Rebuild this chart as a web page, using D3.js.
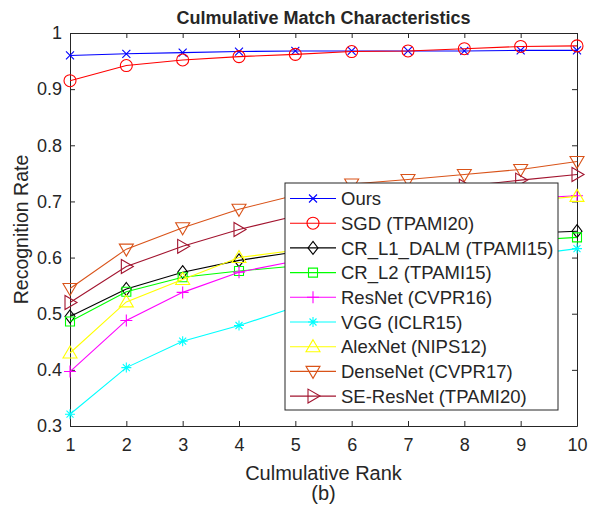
<!DOCTYPE html>
<html>
<head>
<meta charset="utf-8">
<script src="https://d3js.org/d3.v7.min.js"></script>
<style>
  body { margin: 0; background: #fff; }
  text { font-family: "Liberation Sans", Arial, sans-serif; fill: #262626; }
</style>
</head>
<body>
<div id="chart"></div>
<script>
    // ranks on the x axis
    var ranks = [1, 2, 3, 4, 5, 6, 7, 8, 9, 10];

    // one array per method (recognition rate per rank)
    var ours      = [0.960, 0.963, 0.965, 0.967, 0.968, 0.968, 0.968, 0.968, 0.969, 0.969];
    var sgd       = [0.915, 0.942, 0.952, 0.958, 0.962, 0.967, 0.968, 0.972, 0.976, 0.977];
    var crL1      = [0.495, 0.544, 0.574, 0.595, 0.610, 0.620, 0.630, 0.637, 0.643, 0.647];
    var crL2      = [0.486, 0.539, 0.565, 0.576, 0.585, 0.596, 0.608, 0.620, 0.630, 0.636];
    var resnet    = [0.397, 0.488, 0.538, 0.574, 0.594, 0.625, 0.655, 0.685, 0.705, 0.710];
    var vgg       = [0.321, 0.404, 0.451, 0.479, 0.512, 0.540, 0.565, 0.585, 0.603, 0.616];
    var alexnet   = [0.430, 0.521, 0.561, 0.600, 0.613, 0.635, 0.660, 0.680, 0.700, 0.709];
    var densenet  = [0.545, 0.615, 0.653, 0.686, 0.711, 0.731, 0.739, 0.748, 0.757, 0.771];
    var seresnet  = [0.520, 0.584, 0.620, 0.650, 0.674, 0.692, 0.708, 0.727, 0.738, 0.748];

    var yTicks = [0.3, 0.4, 0.5, 0.6, 0.7, 0.8, 0.9, 1];

    var series = [
        {name: "Ours", values: ours, color: "#0000ff", marker: "x"},
        {name: "SGD (TPAMI20)", values: sgd, color: "#ff0000", marker: "circle"},
        {name: "CR_L1_DALM (TPAMI15)", values: crL1, color: "#000000", marker: "diamond"},
        {name: "CR_L2 (TPAMI15)", values: crL2, color: "#00ff00", marker: "square"},
        {name: "ResNet (CVPR16)", values: resnet, color: "#ff00ff", marker: "plus"},
        {name: "VGG (ICLR15)", values: vgg, color: "#00ffff", marker: "star"},
        {name: "AlexNet (NIPS12)", values: alexnet, color: "#ffff00", marker: "triUp"},
        {name: "DenseNet (CVPR17)", values: densenet, color: "#d95319", marker: "triDown"},
        {name: "SE-ResNet (TPAMI20)", values: seresnet, color: "#a2142f", marker: "triRight"}
    ];

    var margin = {top: 33, right: 16, bottom: 84, left: 70},
        width = 593 - margin.left - margin.right,
        height = 510 - margin.top - margin.bottom;

    var svg = d3.select("#chart").append("svg")
        .attr("width", 593)
        .attr("height", 510);

    var g = svg.append("g")
        .attr("transform", "translate(" + margin.left + "," + margin.top + ")");

    var x = d3.scaleLinear().domain([1, 10]).range([0, width]);
    var y = d3.scaleLinear().domain([0.3, 1]).range([height, 0]);

    // axes, ticks pointing inward like matlab
    var axisStyle = function(sel) {
        sel.selectAll("path").attr("stroke", "#262626");
        sel.selectAll("line").attr("stroke", "#262626");
        sel.selectAll("text").attr("font-size", "18px").attr("fill", "#262626");
    };

    g.append("g")
        .attr("transform", "translate(0," + height + ")")
        .call(d3.axisBottom(x).tickValues(ranks).tickFormat(d3.format("d"))
            .tickSizeInner(-5).tickSizeOuter(0).tickPadding(12))
        .call(axisStyle);

    g.append("g")
        .call(d3.axisTop(x).tickValues(ranks).tickFormat("")
            .tickSizeInner(-5).tickSizeOuter(0))
        .call(axisStyle);

    g.append("g")
        .call(d3.axisLeft(y).tickValues(yTicks).tickFormat(function(d) { return d === 1 ? "1" : d.toFixed(1); })
            .tickSizeInner(-5).tickSizeOuter(0).tickPadding(8))
        .call(axisStyle);

    g.append("g")
        .attr("transform", "translate(" + width + ",0)")
        .call(d3.axisRight(y).tickValues(yTicks).tickFormat("")
            .tickSizeInner(-5).tickSizeOuter(0))
        .call(axisStyle);

    // marker drawing helper
    function drawMarker(sel, type, color) {
        sel.each(function() {
            var m = d3.select(this);
            var p;
            if (type === "x") {
                p = "M-4,-4L4,4M-4,4L4,-4";
            } else if (type === "plus") {
                p = "M-6,0L6,0M0,-6L0,6";
            } else if (type === "star") {
                p = "M-5,0L5,0M0,-5L0,5M-3.5,-3.5L3.5,3.5M-3.5,3.5L3.5,-3.5";
            } else if (type === "circle") {
                m.append("circle").attr("r", 6).attr("fill", "none")
                    .attr("stroke", color).attr("stroke-width", 1.1);
                return;
            } else if (type === "square") {
                p = "M-4.5,-4.5L4.5,-4.5L4.5,4.5L-4.5,4.5Z";
            } else if (type === "diamond") {
                p = "M0,-6.5L5,0L0,6.5L-5,0Z";
            } else if (type === "triUp") {
                p = "M0,-7L7,5L-7,5Z";
            } else if (type === "triDown") {
                p = "M0,7L7,-5L-7,-5Z";
            } else if (type === "triRight") {
                p = "M7,0L-5,-7L-5,7Z";
            }
            m.append("path").attr("d", p).attr("fill", "none")
                .attr("stroke", color).attr("stroke-width", 1.1);
        });
    }

    var line = d3.line()
        .x(function(d, i) { return x(ranks[i]); })
        .y(function(d) { return y(d); });

    series.forEach(function(s) {
        var sg = g.append("g");
        sg.append("path")
            .datum(s.values)
            .attr("d", line)
            .attr("fill", "none")
            .attr("stroke", s.color)
            .attr("stroke-width", 1.1);
        sg.selectAll("g.mk")
            .data(s.values)
            .enter().append("g")
            .attr("class", "mk")
            .attr("transform", function(d, i) { return "translate(" + x(ranks[i]) + "," + y(d) + ")"; })
            .call(drawMarker, s.marker, s.color);
    });

    // legend
    var legX = 285 - margin.left, legY = 183 - margin.top, rowH = 24.7;
    var leg = g.append("g").attr("transform", "translate(" + legX + "," + legY + ")");
    leg.append("rect")
        .attr("width", 273)
        .attr("height", 227)
        .attr("fill", "#fff")
        .attr("stroke", "#262626")
        .attr("stroke-width", 1);

    series.forEach(function(s, i) {
        var row = leg.append("g").attr("transform", "translate(0," + (15.5 + i * rowH) + ")");
        row.append("line")
            .attr("x1", 5).attr("x2", 51)
            .attr("stroke", s.color).attr("stroke-width", 1.1);
        row.append("g").attr("transform", "translate(28,0)").call(drawMarker, s.marker, s.color);
        row.append("text")
            .attr("x", 56)
            .attr("dy", "0.36em")
            .attr("font-size", "18.5px")
            .text(s.name);
    });

    // title and axis labels
    svg.append("text")
        .attr("x", margin.left + width / 2)
        .attr("y", 24)
        .attr("text-anchor", "middle")
        .attr("font-size", "18px")
        .attr("font-weight", "bold")
        .attr("fill", "#000")
        .text("Culmulative Match Characteristics");

    svg.append("text")
        .attr("x", margin.left + width / 2)
        .attr("y", 480)
        .attr("text-anchor", "middle")
        .attr("font-size", "20px")
        .text("Culmulative Rank");

    svg.append("text")
        .attr("transform", "translate(28," + (margin.top + height / 2) + ") rotate(-90)")
        .attr("text-anchor", "middle")
        .attr("font-size", "19.5px")
        .text("Recognition Rate");

    svg.append("text")
        .attr("x", margin.left + width / 2)
        .attr("y", 500)
        .attr("text-anchor", "middle")
        .attr("font-size", "20px")
        .attr("font-family", "Liberation Serif, Times New Roman, serif")
        .attr("fill", "#000")
        .text("(b)");
</script>
</body>
</html>
